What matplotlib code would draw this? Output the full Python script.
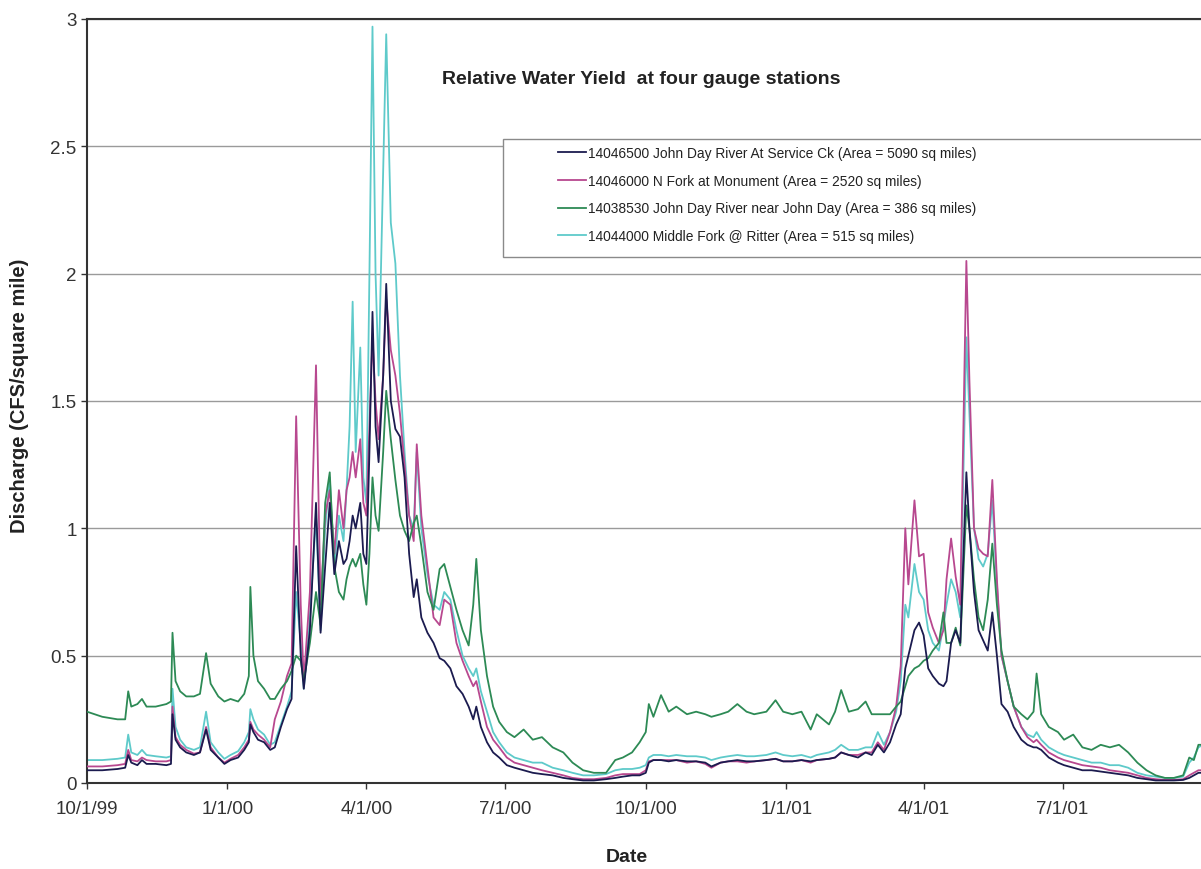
import datetime as dt
import matplotlib
matplotlib.use("Agg")
import matplotlib.pyplot as plt
from matplotlib.patches import Rectangle

plt.rcParams['font.family'] = ['Liberation Sans', 'DejaVu Sans']

days = [0, 10, 20, 25, 27, 29, 33, 36, 39, 45, 52, 55, 56, 58, 61, 65, 70, 74, 78, 81,
        86, 90, 94, 99, 103, 106, 107, 109, 112, 116, 120, 123, 127, 131, 134, 137, 140, 142, 146, 150,
        153, 156, 159, 162, 165, 168, 170, 172, 174, 176, 179, 181, 183, 185, 187, 189, 191, 194, 196, 199,
        202, 205, 208, 211, 214, 216, 219, 223, 227, 231, 234, 238, 242, 246, 250, 253, 255, 258, 262, 266,
        270, 275, 280, 286, 292, 298, 305, 312, 318, 325, 332, 340, 346, 351, 357, 362, 366, 368, 371, 376,
        381, 386, 393, 399, 405, 409, 415, 420, 426, 432, 437, 445, 451, 456, 462, 468, 474, 478, 486, 490,
        494, 499, 505, 510, 514, 518, 522, 526, 530, 533, 536, 538, 542, 545, 548, 551, 554, 558, 561, 563,
        566, 569, 572, 576, 578, 581, 584, 587, 590, 593, 596, 599, 603, 607, 612, 616, 620, 622, 625, 630,
        636, 640, 646, 652, 658, 664, 670, 676, 682, 688, 694, 700, 706, 712, 718, 722, 725, 728, 731]

service_ck = [0.05, 0.05, 0.055, 0.06, 0.11, 0.08, 0.07, 0.09, 0.075, 0.075, 0.07, 0.075, 0.27, 0.17, 0.14, 0.12, 0.11, 0.12, 0.21, 0.13,
              0.10, 0.075, 0.09, 0.10, 0.13, 0.16, 0.23, 0.20, 0.17, 0.16, 0.13, 0.14, 0.22, 0.29, 0.33, 0.93, 0.50, 0.37, 0.60, 1.10,
              0.59, 0.85, 1.10, 0.82, 0.95, 0.86, 0.88, 0.95, 1.05, 1.00, 1.10, 0.90, 0.86, 1.30, 1.85, 1.40, 1.26, 1.60, 1.96, 1.50,
              1.39, 1.36, 1.20, 0.90, 0.73, 0.80, 0.65, 0.59, 0.55, 0.49, 0.48, 0.45, 0.38, 0.35, 0.30, 0.25, 0.30, 0.22, 0.16, 0.12,
              0.10, 0.07, 0.06, 0.05, 0.04, 0.035, 0.03, 0.02, 0.015, 0.01, 0.01, 0.015, 0.02, 0.025, 0.03, 0.03, 0.04, 0.08, 0.09, 0.09,
              0.085, 0.09, 0.085, 0.085, 0.08, 0.065, 0.08, 0.085, 0.09, 0.085, 0.085, 0.09, 0.095, 0.085, 0.085, 0.09, 0.085, 0.09, 0.095, 0.10,
              0.12, 0.11, 0.10, 0.12, 0.11, 0.15, 0.12, 0.16, 0.23, 0.27, 0.45, 0.50, 0.60, 0.63, 0.58, 0.45, 0.42, 0.39, 0.38, 0.40,
              0.55, 0.60, 0.55, 1.22, 1.00, 0.75, 0.60, 0.56, 0.52, 0.67, 0.50, 0.31, 0.28, 0.22, 0.17, 0.15, 0.14, 0.14, 0.13, 0.10,
              0.08, 0.07, 0.06, 0.05, 0.05, 0.045, 0.04, 0.035, 0.03, 0.02, 0.015, 0.01, 0.01, 0.01, 0.012, 0.02, 0.03, 0.04, 0.04]

n_fork = [0.065, 0.065, 0.07, 0.075, 0.13, 0.09, 0.085, 0.10, 0.09, 0.085, 0.085, 0.09, 0.30, 0.18, 0.15, 0.13, 0.115, 0.12, 0.22, 0.14,
          0.10, 0.08, 0.095, 0.11, 0.14, 0.17, 0.24, 0.21, 0.19, 0.17, 0.14, 0.25, 0.32, 0.42, 0.47, 1.44, 0.70, 0.40, 0.75, 1.64,
          0.70, 1.05, 1.15, 0.90, 1.15, 1.00, 1.15, 1.20, 1.30, 1.20, 1.35, 1.10, 1.05, 1.40, 1.75, 1.50, 1.35, 1.60, 1.90, 1.70,
          1.60, 1.45, 1.25, 1.05, 0.95, 1.33, 1.05, 0.85, 0.65, 0.62, 0.72, 0.70, 0.55, 0.48, 0.42, 0.38, 0.40, 0.32, 0.22, 0.17,
          0.14, 0.10, 0.08, 0.07, 0.06, 0.05, 0.04, 0.03, 0.02, 0.015, 0.015, 0.02, 0.03, 0.035, 0.035, 0.035, 0.05, 0.085, 0.09, 0.09,
          0.09, 0.09, 0.08, 0.085, 0.075, 0.06, 0.08, 0.085, 0.085, 0.08, 0.085, 0.09, 0.095, 0.085, 0.085, 0.09, 0.08, 0.09, 0.095, 0.10,
          0.12, 0.11, 0.11, 0.12, 0.12, 0.16, 0.13, 0.20, 0.30, 0.46, 1.00, 0.78, 1.11, 0.89, 0.90, 0.67, 0.61, 0.55, 0.60, 0.80,
          0.96, 0.81, 0.70, 2.05, 1.58, 1.00, 0.92, 0.90, 0.89, 1.19, 0.80, 0.50, 0.40, 0.30, 0.22, 0.18, 0.16, 0.17, 0.15, 0.12,
          0.10, 0.09, 0.08, 0.07, 0.065, 0.06, 0.05, 0.045, 0.04, 0.03, 0.02, 0.015, 0.012, 0.012, 0.015, 0.03, 0.04, 0.05, 0.05]

near_john_day = [0.28, 0.26, 0.25, 0.25, 0.36, 0.30, 0.31, 0.33, 0.30, 0.30, 0.31, 0.32, 0.59, 0.40, 0.36, 0.34, 0.34, 0.35, 0.51, 0.39,
                 0.34, 0.32, 0.33, 0.32, 0.35, 0.42, 0.77, 0.50, 0.40, 0.37, 0.33, 0.33, 0.37, 0.40, 0.44, 0.50, 0.48, 0.40, 0.55, 0.75,
                 0.62, 1.10, 1.22, 0.85, 0.75, 0.72, 0.80, 0.85, 0.88, 0.85, 0.90, 0.78, 0.70, 0.90, 1.20, 1.05, 0.99, 1.30, 1.54, 1.35,
                 1.19, 1.05, 0.99, 0.95, 1.02, 1.05, 0.93, 0.75, 0.68, 0.84, 0.86, 0.77, 0.68, 0.60, 0.54, 0.70, 0.88, 0.60, 0.42, 0.30,
                 0.24, 0.20, 0.18, 0.21, 0.17, 0.18, 0.14, 0.12, 0.08, 0.05, 0.04, 0.04, 0.09, 0.10, 0.12, 0.16, 0.20, 0.31, 0.26, 0.345,
                 0.28, 0.30, 0.27, 0.28, 0.27, 0.26, 0.27, 0.28, 0.31, 0.28, 0.27, 0.28, 0.325, 0.28, 0.27, 0.28, 0.21, 0.27, 0.23, 0.28,
                 0.365, 0.28, 0.29, 0.32, 0.27, 0.27, 0.27, 0.27, 0.30, 0.32, 0.38, 0.42, 0.45, 0.46, 0.48, 0.49, 0.52, 0.55, 0.67, 0.55,
                 0.55, 0.61, 0.54, 1.09, 1.00, 0.80, 0.65, 0.60, 0.72, 0.94, 0.70, 0.52, 0.40, 0.30, 0.27, 0.25, 0.28, 0.43, 0.27, 0.22,
                 0.20, 0.17, 0.19, 0.14, 0.13, 0.15, 0.14, 0.15, 0.12, 0.08, 0.05, 0.03, 0.02, 0.02, 0.03, 0.10, 0.09, 0.15, 0.15]

middle_fork = [0.09, 0.09, 0.095, 0.10, 0.19, 0.12, 0.11, 0.13, 0.11, 0.105, 0.10, 0.105, 0.37, 0.22, 0.17, 0.14, 0.13, 0.14, 0.28, 0.16,
               0.12, 0.095, 0.11, 0.125, 0.16, 0.20, 0.29, 0.25, 0.21, 0.19, 0.15, 0.16, 0.23, 0.30, 0.36, 0.75, 0.55, 0.37, 0.65, 1.05,
               0.60, 1.00, 1.20, 0.85, 1.05, 0.95, 1.15, 1.40, 1.89, 1.30, 1.71, 1.20, 1.10, 2.00, 2.97, 2.00, 1.60, 2.40, 2.94, 2.20,
               2.04, 1.60, 1.30, 1.05, 1.00, 1.30, 1.00, 0.82, 0.70, 0.68, 0.75, 0.72, 0.60, 0.50, 0.45, 0.42, 0.45, 0.36, 0.28, 0.20,
               0.16, 0.12, 0.10, 0.09, 0.08, 0.08, 0.06, 0.05, 0.04, 0.03, 0.03, 0.035, 0.05, 0.055, 0.055, 0.06, 0.07, 0.10, 0.11, 0.11,
               0.105, 0.11, 0.105, 0.105, 0.10, 0.09, 0.10, 0.105, 0.11, 0.105, 0.105, 0.11, 0.12, 0.11, 0.105, 0.11, 0.10, 0.11, 0.12, 0.13,
               0.15, 0.13, 0.13, 0.14, 0.14, 0.20, 0.15, 0.20, 0.28, 0.40, 0.70, 0.65, 0.86, 0.75, 0.72, 0.60, 0.55, 0.52, 0.62, 0.70,
               0.80, 0.75, 0.65, 1.75, 1.45, 1.00, 0.88, 0.85, 0.90, 1.11, 0.78, 0.50, 0.40, 0.30, 0.22, 0.19, 0.18, 0.20, 0.17, 0.14,
               0.12, 0.11, 0.10, 0.09, 0.08, 0.08, 0.07, 0.07, 0.06, 0.04, 0.03, 0.025, 0.02, 0.02, 0.025, 0.08, 0.10, 0.14, 0.15]

labels = ["14046500 John Day River At Service Ck (Area = 5090 sq miles)",
          "14046000 N Fork at Monument (Area = 2520 sq miles)",
          "14038530 John Day River near John Day (Area = 386 sq miles)",
          "14044000 Middle Fork @ Ritter (Area = 515 sq miles)"]

tick_labels = ["10/1/99", "1/1/00", "4/1/00", "7/1/00", "10/1/00", "1/1/01", "4/1/01", "7/1/01"]

start = dt.date(1999, 10, 1)
dates = [start + dt.timedelta(days=d) for d in days]
tick_dates = [dt.datetime.strptime(t, "%m/%d/%y") for t in tick_labels]

colors = ['#1b1b4f', '#b8488f', '#2d8a55', '#5ecaca']

fig = plt.figure(figsize=(12.01, 8.7), dpi=100)
ax = fig.add_axes([87 / 1201, 1 - 784 / 870, 1116 / 1201, 764 / 870])

series = [service_ck, n_fork, near_john_day, middle_fork]
zorders = [5, 3, 4, 2]
lines = []
for vals, c, lab, z in zip(series, colors, labels, zorders):
    ln, = ax.plot(dates, vals, color=c, lw=1.3, label=lab, zorder=z)
    lines.append(ln)

ax.set_xlim(start, dt.date(2001, 10, 1))
ax.set_ylim(0, 3)
ax.set_yticks([0, 0.5, 1, 1.5, 2, 2.5, 3])
ax.set_yticklabels(['0', '0.5', '1', '1.5', '2', '2.5', '3'])
ax.set_xticks(tick_dates)
ax.set_xticklabels(tick_labels)
ax.tick_params(labelsize=13.5, colors='#333333', length=4, width=1)
ax.tick_params(axis='x', pad=8)
ax.yaxis.grid(True, color='#9a9a9a', lw=1)
ax.set_axisbelow(True)

for s in ['left', 'bottom', 'top']:
    ax.spines[s].set_color('#333333')
    ax.spines[s].set_linewidth(1.5)
ax.spines['right'].set_visible(False)

fig.text(641 / 1201, 1 - 80 / 870, "Relative Water Yield  at four gauge stations",
         ha='center', va='center', fontsize=14, fontweight='bold', color='#222222')
fig.text(20 / 1201, 1 - 396 / 870, "Discharge (CFS/square mile)", rotation=90,
         ha='center', va='center', fontsize=14.5, fontweight='bold', color='#222222')
fig.text(627 / 1201, 1 - 858 / 870, "Date", ha='center', va='center',
         fontsize=14, fontweight='bold', color='#222222')

# legend box runs off the right edge in the original
box = Rectangle((503 / 1201, 1 - 258 / 870), 720 / 1201, 118 / 870,
                transform=fig.transFigure, facecolor='white',
                edgecolor='#8a8a8a', lw=1, zorder=4)
fig.patches.append(box)
leg = fig.legend(handles=lines, loc='upper left', bbox_to_anchor=(558 / 1201, 1 - 147 / 870),
                 bbox_transform=fig.transFigure, frameon=False, fontsize=9.9,
                 handlelength=2.0, handletextpad=0.15, labelspacing=1.0,
                 borderpad=0, borderaxespad=0, labelcolor='#222222')
leg.set_zorder(12)

fig.savefig("out.png", dpi=100)
